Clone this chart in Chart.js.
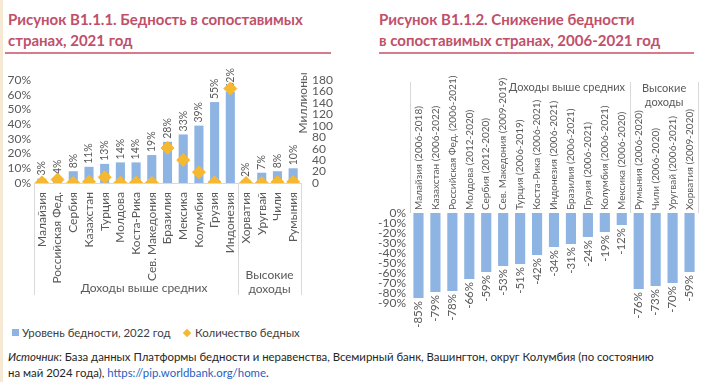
<!DOCTYPE html>
<html>
<head>
<meta charset="utf-8">
<script src="https://cdn.jsdelivr.net/npm/chart.js@4.4.1/dist/chart.umd.min.js"></script>
<style>
  body{margin:0;width:703px;height:382px;overflow:hidden;position:relative;background:#fff;font-family:Lato,"Noto Sans",sans-serif;}
  .edge{position:absolute;left:0;top:0;width:3px;height:382px;background:#f6e9d4;}
  .title{position:absolute;top:9px;font-weight:bold;font-size:15px;line-height:21px;color:#c0506a;white-space:nowrap;}
  .rule{position:absolute;top:52px;height:2px;background:#d77a8c;}
  canvas{position:absolute;}
  .legend{position:absolute;top:326px;font-size:11.4px;line-height:14px;color:#404040;white-space:nowrap;}
  .sq{display:inline-block;width:7px;height:7px;background:#8db4e2;margin-right:3px;vertical-align:1px;}
  .dm{display:inline-block;width:6px;height:6px;background:#f6b830;transform:rotate(45deg);margin:0 5px 0 2px;vertical-align:1px;}
  .src{position:absolute;left:8px;top:349px;font-size:11.4px;line-height:16px;color:#262626;white-space:nowrap;}
  .src a{color:#1f5fbf;text-decoration:none;}
</style>
</head>
<body>
<div class="edge"></div>
<div class="title" style="left:8px">Рисунок B1.1.1. Бедность в сопоставимых<br>странах, 2021 год</div>
<div class="rule" style="left:5px;width:326px"></div>
<div class="title" style="left:379px">Рисунок B1.1.2. Снижение бедности<br>в сопоставимых странах, 2006-2021 год</div>
<div class="rule" style="left:379px;width:315px"></div>

<canvas id="c1" width="345" height="250" style="left:0;top:60px;width:345px;height:250px"></canvas>
<canvas id="c2" width="348" height="280" style="left:355px;top:60px;width:348px;height:280px"></canvas>

<div class="legend" style="left:12px"><span class="sq"></span>Уровень бедности, 2022 год</div>
<div class="legend" style="left:182px"><span class="dm"></span>Количество бедных</div>

<div class="src"><i>Источник</i>: База данных Платформы бедности и неравенства, Всемирный банк, Вашингтон, округ Колумбия (по состоянию<br>на май 2024 года), <a href="#">https://pip.worldbank.org/home</a>.</div>

<script>
// --- left chart data (2021/2022) ---
const leftCountries = ['Малайзия','Российская Фед.','Сербия','Казахстан','Турция','Молдова','Коста-Рика','Сев. Македония','Бразилия','Мексика','Колумбия','Грузия','Индонезия','Хорватия','Уругвай','Чили','Румыния'];
const povertyRate = [3,4,8,11,13,14,14,19,28,33,39,55,62,2,7,8,10];            // %
const poorMillions = [1,6,0.5,2,10,0.5,0.7,0.4,61,40,19,1.5,165,0.1,0.2,1.5,1.9]; // млн
const leftGroups = [
  {label:['Доходы выше средних'], from:0, to:12},
  {label:['Высокие','доходы'], from:13, to:16}
];

// --- right chart data (change 2006-2021) ---
const rightCountries = ['Малайзия (2006-2018)','Казахстан (2006-2022)','Российская Фед. (2006-2021)','Молдова (2012-2020)','Сербия (2012-2020)','Сев. Македония (2009-2019)','Турция (2006-2019)','Коста-Рика (2006-2021)','Индонезия (2006-2021)','Бразилия (2006-2021)','Грузия (2006-2021)','Колумбия (2006-2021)','Мексика (2006-2020)','Румыния (2006-2020)','Чили (2006-2020)','Уругвай (2006-2021)','Хорватия (2009-2020)'];
const povertyChange = [-85,-79,-78,-66,-59,-53,-51,-42,-34,-31,-24,-19,-12,-76,-73,-70,-59];
const rightGroups = [
  {label:['Доходы выше средних'], from:0, to:12},
  {label:['Высокие','доходы'], from:13, to:16}
];

const FONT = 'Lato, "Noto Sans", sans-serif';
const GREY = '#595959';
const LINE = '#d9d9d9';
const BAR = '#8db4e2';
const GOLD = '#f6b830';

function vText(ctx, txt, x, y, align){
  ctx.save();
  ctx.translate(x, y);
  ctx.rotate(-Math.PI/2);
  ctx.textAlign = align;
  ctx.textBaseline = 'middle';
  ctx.fillText(txt, 0, 0);
  ctx.restore();
}

// left chart: labels, separators, group names
const leftMarks = {
  id:'leftMarks',
  afterDatasetDraw(chart, args){
    if(args.meta.type !== 'bar') return;
    const ctx = chart.ctx;
    ctx.save();
    ctx.fillStyle = GREY;
    ctx.font = '10.5px ' + FONT;
    args.meta.data.forEach((bar,i) => vText(ctx, povertyRate[i]+'%', bar.x, bar.y-3, 'left'));
    ctx.restore();
  },
  afterDraw(chart){
    const ctx = chart.ctx, a = chart.chartArea, x = chart.scales.x;
    ctx.save();
    ctx.fillStyle = GREY;
    ctx.font = '12px ' + FONT;
    leftCountries.forEach((c,i) => vText(ctx, c, x.getPixelForValue(i), a.bottom+9, 'right'));

    const sep = (x.getPixelForValue(leftGroups[0].to) + x.getPixelForValue(leftGroups[1].from))/2;
    ctx.strokeStyle = LINE; ctx.lineWidth = 1;
    [a.left, sep, a.right].forEach(px => {
      ctx.beginPath(); ctx.moveTo(Math.round(px)+0.5, a.bottom); ctx.lineTo(Math.round(px)+0.5, a.bottom+112); ctx.stroke();
    });
    ctx.textAlign = 'center'; ctx.textBaseline = 'middle';
    ctx.fillText(leftGroups[0].label[0], (a.left+sep)/2 + 8, a.bottom+105);
    const c2 = (sep + a.right)/2;
    ctx.fillText(leftGroups[1].label[0], c2, a.bottom+92);
    ctx.fillText(leftGroups[1].label[1], c2, a.bottom+106);

    // right axis caption
    vText(ctx, 'Миллионы', a.right+2, a.top+23, 'center');
    ctx.restore();
  }
};

new Chart(document.getElementById('c1'), {
  type:'bar',
  data:{
    labels: leftCountries,
    datasets:[
      { type:'line', label:'Количество бедных', data: poorMillions, yAxisID:'y2', showLine:false,
        pointStyle:'rectRot', pointRadius:6.5, pointHoverRadius:6.5, backgroundColor:GOLD, borderColor:GOLD, borderWidth:1, order:0 },
      { type:'bar', label:'Уровень бедности, 2022 год', data: povertyRate, yAxisID:'y', backgroundColor:BAR,
        categoryPercentage:0.58, barPercentage:1, order:1 }
    ]
  },
  options:{
    responsive:false, animation:false,
    layout:{ padding:{ top:20, bottom:127, left:0, right:0 } },
    plugins:{ legend:{display:false}, tooltip:{enabled:false} },
    scales:{
      x:{ grid:{display:false, drawTicks:false}, ticks:{display:false}, border:{display:true, color:LINE},
          afterFit(s){ s.height = 0; } },
      y:{ position:'left', min:0, max:70, grid:{display:false, drawTicks:false}, border:{display:false},
          ticks:{ stepSize:10, autoSkip:false, padding:3, color:GREY, font:{family:FONT, size:12}, callback:v => v+'%' },
          afterFit(s){ s.width = 34; } },
      y2:{ position:'right', min:0, max:180, grid:{display:false, drawTicks:false}, border:{display:false},
          ticks:{ stepSize:20, autoSkip:false, padding:11, color:GREY, font:{family:FONT, size:12} },
          afterFit(s){ s.width = 44; } }
    }
  },
  plugins:[leftMarks]
});

// right chart: labels above, values below
const rightMarks = {
  id:'rightMarks',
  afterDatasetsDraw(chart){
    const ctx = chart.ctx, a = chart.chartArea, x = chart.scales.x;
    const meta = chart.getDatasetMeta(0);
    ctx.save();
    ctx.fillStyle = GREY;
    ctx.font = '11.5px ' + FONT;
    meta.data.forEach((bar,i) => vText(ctx, povertyChange[i]+'%', bar.x, bar.y+3, 'right'));
    ctx.font = '10px ' + FONT;
    rightCountries.forEach((c,i) => vText(ctx, c, x.getPixelForValue(i), a.top-3, 'left'));

    const sep = (x.getPixelForValue(rightGroups[0].to) + x.getPixelForValue(rightGroups[1].from))/2;
    ctx.strokeStyle = LINE; ctx.lineWidth = 1;
    [a.left, sep, a.right].forEach(px => {
      ctx.beginPath(); ctx.moveTo(Math.round(px)+0.5, a.top-131); ctx.lineTo(Math.round(px)+0.5, a.top); ctx.stroke();
    });
    ctx.font = '11px ' + FONT;
    ctx.textAlign = 'center'; ctx.textBaseline = 'middle';
    ctx.fillText(rightGroups[0].label[0], x.getPixelForValue(9) - 4, a.top-126);
    const c2 = (sep + a.right)/2;
    ctx.fillText(rightGroups[1].label[0], c2, a.top-125);
    ctx.fillText(rightGroups[1].label[1], c2, a.top-111);
    ctx.restore();
  }
};

new Chart(document.getElementById('c2'), {
  type:'bar',
  data:{
    labels: rightCountries,
    datasets:[{ data: povertyChange, backgroundColor:BAR, categoryPercentage:0.6, barPercentage:1 }]
  },
  options:{
    responsive:false, animation:false,
    layout:{ padding:{ top:153, bottom:37, left:0, right:5 } },
    plugins:{ legend:{display:false}, tooltip:{enabled:false} },
    scales:{
      x:{ position:'top', grid:{display:false, drawTicks:false}, ticks:{display:false}, border:{display:false},
          afterFit(s){ s.height = 0; } },
      y:{ min:-90, max:0, grid:{display:false, drawTicks:false}, border:{display:false},
          ticks:{ stepSize:10, autoSkip:false, padding:4, color:GREY, font:{family:FONT, size:12}, callback:v => v+'%' },
          afterFit(s){ s.width = 55; } }
    }
  },
  plugins:[rightMarks]
});
</script>
</body>
</html>
